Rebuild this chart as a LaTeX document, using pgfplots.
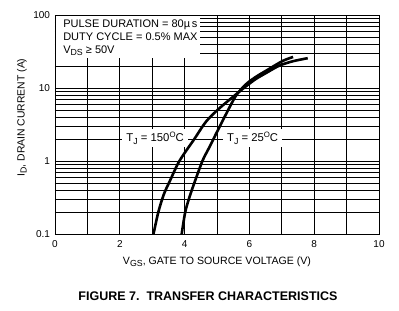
\documentclass[border=0pt]{standalone}
\usepackage{fontspec}
\setmainfont{Liberation Sans}
\usepackage{pgfplots}
\pgfplotsset{compat=1.18}
\newcommand\sub[1]{\raisebox{-0.35ex}{\fontsize{8.8}{9}\selectfont #1}}
\newcommand\dg{\raisebox{0.75ex}{\fontsize{7.8}{8}\selectfont O}}
\begin{document}
\begin{tikzpicture}
\begin{axis}[
  name=ax,
  width=324pt, height=219pt, scale only axis,
  xmin=0, xmax=10, ymin=0.1, ymax=100, ymode=log,
  xtick={0,1,...,10},
  xticklabels={0,,2,,4,,6,,8,,10},
  ytick={0.1,1,10,100},
  yticklabels={0.1,1,10,100},
  minor ytick={0.2,0.3,0.4,0.5,0.6,0.7,0.8,0.9,2,3,4,5,6,7,8,9,20,30,40,50,60,70,80,90},
  xmajorgrids, ymajorgrids, yminorgrids,
  major tick length=0pt, minor tick length=0pt,
  grid style={black, line width=0.8pt},
  minor grid style={black, line width=0.8pt},
  axis line style={black, line width=0.8pt},
  /pgf/number format/assume math mode=true,
  tick label style={font=\fontsize{10}{11}\selectfont},
  xticklabel style={yshift=-3pt},
  yticklabel style={xshift=-1.5pt},
  clip=false,
]
% text box (covers grid)
\fill[white] (axis cs:0,25.4) rectangle (axis cs:4.48,100);
\node[anchor=west, font=\fontsize{11}{12}\selectfont, inner sep=0pt] at (axis cs:0.25,74) {PULSE DURATION = 80µ\,s};
\node[anchor=west, font=\fontsize{11}{12}\selectfont, inner sep=0pt] at (axis cs:0.25,49.7) {DUTY CYCLE = 0.5\% MAX};
\node[anchor=west, font=\fontsize{11}{12}\selectfont, inner sep=0pt] at (axis cs:0.25,32) {V\sub{DS} ≥ 50V};
% curve labels
\node[fill=white, inner xsep=4pt, inner ysep=3pt, font=\fontsize{11.3}{12}\selectfont] at (axis cs:3.09,2.06) {T\sub{J} = 150\dg C};
\node[fill=white, inner xsep=4pt, inner ysep=3pt, font=\fontsize{11.3}{12}\selectfont] at (axis cs:6.1,2.06) {T\sub{J} = 25\dg C};
% 150 C
\addplot[black, line width=2.6pt, smooth, tension=0.5] coordinates {
(3.04,0.1)(3.19,0.2)(3.36,0.35)(3.56,0.55)(3.84,1.0)(4.3,2.0)(4.67,3.5)(5.08,5.3)(5.59,8.2)(5.9,10.6)(6.2,13.3)(6.53,16.2)(6.93,20.3)(7.35,23.3)(7.8,25.6)
};
% 25 C
\addplot[black, line width=2.6pt, smooth, tension=0.5] coordinates {
(3.91,0.1)(4.02,0.2)(4.15,0.32)(4.3,0.5)(4.55,1.0)(4.75,1.5)(4.9,2.04)(5.03,2.66)(5.28,4.4)(5.59,7.9)(5.9,11.3)(6.2,14.2)(6.53,17.4)(7.03,23.5)(7.35,26.6)
};
\draw[black, line width=0.8pt] (rel axis cs:0,0) rectangle (rel axis cs:1,1);
\end{axis}
\node[font=\fontsize{10.6}{12}\selectfont] at ([yshift=-28pt]ax.south) {V\sub{GS}, GATE TO SOURCE VOLTAGE (V)};
\node[font=\fontsize{10.4}{12}\selectfont, rotate=90] at ([xshift=-33pt,yshift=7pt]ax.west) {I\sub{D}, DRAIN CURRENT (A)};
\node[font=\bfseries\fontsize{12.5}{14}\selectfont] at ([xshift=-9pt,yshift=-62pt]ax.south) {FIGURE 7.\ \ TRANSFER CHARACTERISTICS};
\pgfresetboundingbox
\path[use as bounding box] ([xshift=-55pt,yshift=-77pt]ax.south west) rectangle ([xshift=20pt,yshift=15pt]ax.north east);
\end{tikzpicture}
\end{document}
